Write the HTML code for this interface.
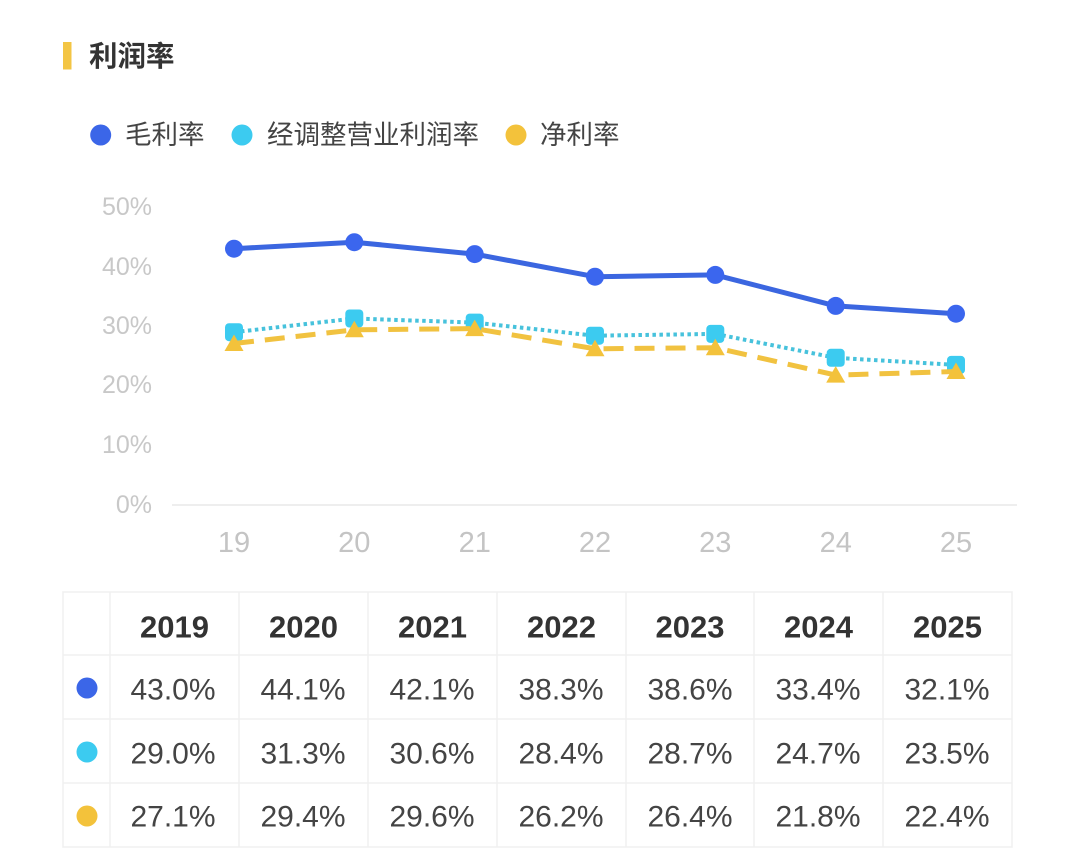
<!DOCTYPE html>
<html>
<head>
<meta charset="utf-8">
<style>
html,body{margin:0;padding:0;background:#fff;}
svg{display:block;}
text{font-family:"Liberation Sans","Noto Sans CJK SC",sans-serif;}
</style>
</head>
<body>
<svg width="1080" height="868" viewBox="0 0 1080 868" xmlns="http://www.w3.org/2000/svg">
<rect width="1080" height="868" fill="#fff"/>
<!-- title -->
<rect x="63" y="42" width="8.5" height="27.5" fill="#f3c544"/>
<text x="89" y="57" font-size="28.5" font-weight="bold" fill="#333" dominant-baseline="central">利润率</text>
<!-- legend -->
<circle cx="100.7" cy="135" r="10.5" fill="#3b66e8"/>
<text x="125" y="135" font-size="26.5" fill="#444" dominant-baseline="central">毛利率</text>
<circle cx="242" cy="135" r="10.5" fill="#3ccbf0"/>
<text x="267" y="135" font-size="26.5" fill="#444" dominant-baseline="central">经调整营业利润率</text>
<circle cx="516" cy="135" r="10.5" fill="#f3c23b"/>
<text x="540" y="135" font-size="26.5" fill="#444" dominant-baseline="central">净利率</text>
<!-- y axis labels -->
<g font-size="25" fill="#c8c8c8" text-anchor="end" dominant-baseline="central">
<text x="152" y="207">50%</text>
<text x="152" y="267">40%</text>
<text x="152" y="326">30%</text>
<text x="152" y="385">20%</text>
<text x="152" y="445">10%</text>
<text x="152" y="505">0%</text>
</g>
<line x1="172" y1="505" x2="1017" y2="505" stroke="#eeeeee" stroke-width="2"/>
<!-- x labels -->
<g font-size="29" fill="#c4c4c4" text-anchor="middle" dominant-baseline="central">
<text x="234" y="543">19</text>
<text x="354.3" y="543">20</text>
<text x="474.7" y="543">21</text>
<text x="595" y="543">22</text>
<text x="715.3" y="543">23</text>
<text x="835.7" y="543">24</text>
<text x="956" y="543">25</text>
</g>
<!-- blue series -->
<polyline fill="none" stroke="#3b66e0" stroke-width="5" stroke-linejoin="round" points="234,248.7 354.3,242.2 474.7,254.1 595,276.7 715.3,274.9 835.7,305.9 956,313.7"/>
<g fill="#3b66ee">
<circle cx="234" cy="248.7" r="9"/>
<circle cx="354.3" cy="242.2" r="9"/>
<circle cx="474.7" cy="254.1" r="9"/>
<circle cx="595" cy="276.7" r="9"/>
<circle cx="715.3" cy="274.9" r="9"/>
<circle cx="835.7" cy="305.9" r="9"/>
<circle cx="956" cy="313.7" r="9"/>
</g>
<!-- cyan series -->
<polyline fill="none" stroke="#47c2dc" stroke-width="4" stroke-dasharray="3.5 3.5" points="234,332.2 354.3,318.5 474.7,322.6 595,335.7 715.3,333.9 835.7,357.8 956,364.9"/>
<g fill="#3ccbf0">
<rect x="225" y="323.2" width="18" height="18" rx="4"/>
<rect x="345.3" y="309.5" width="18" height="18" rx="4"/>
<rect x="465.7" y="313.6" width="18" height="18" rx="4"/>
<rect x="586" y="326.7" width="18" height="18" rx="4"/>
<rect x="706.3" y="324.9" width="18" height="18" rx="4"/>
<rect x="826.7" y="348.8" width="18" height="18" rx="4"/>
<rect x="947" y="355.9" width="18" height="18" rx="4"/>
</g>
<!-- yellow series -->
<polyline fill="none" stroke="#f1c240" stroke-width="5" stroke-dasharray="20 11" points="234,343.5 354.3,329.8 474.7,328.6 595,348.8 715.3,347.7 835.7,375.1 956,371.5"/>
<g fill="#f3c23b">
<polygon points="234,334.5 243.5,351 224.5,351"/>
<polygon points="354.3,320.8 363.8,337.3 344.8,337.3"/>
<polygon points="474.7,319.6 484.2,336.1 465.2,336.1"/>
<polygon points="595,339.8 604.5,356.3 585.5,356.3"/>
<polygon points="715.3,338.7 724.8,355.2 705.8,355.2"/>
<polygon points="835.7,366.1 845.2,382.6 826.2,382.6"/>
<polygon points="956,362.5 965.5,379 946.5,379"/>
</g>
<!-- table -->
<g stroke="#f0f0f0" stroke-width="1.5" fill="none">
<rect x="63" y="592" width="949" height="255"/>
<line x1="63" y1="655" x2="1012" y2="655"/>
<line x1="63" y1="719" x2="1012" y2="719"/>
<line x1="63" y1="783" x2="1012" y2="783"/>
<line x1="110" y1="592" x2="110" y2="847"/>
<line x1="239" y1="592" x2="239" y2="847"/>
<line x1="368" y1="592" x2="368" y2="847"/>
<line x1="497" y1="592" x2="497" y2="847"/>
<line x1="626" y1="592" x2="626" y2="847"/>
<line x1="754" y1="592" x2="754" y2="847"/>
<line x1="883" y1="592" x2="883" y2="847"/>
</g>
<g font-size="31" font-weight="bold" fill="#333" text-anchor="middle" dominant-baseline="central">
<text x="174.5" y="627">2019</text>
<text x="303.5" y="627">2020</text>
<text x="432.5" y="627">2021</text>
<text x="561.5" y="627">2022</text>
<text x="690" y="627">2023</text>
<text x="818.5" y="627">2024</text>
<text x="947.5" y="627">2025</text>
</g>
<circle cx="87" cy="688" r="10.5" fill="#3b66e8"/>
<circle cx="87" cy="752" r="10.5" fill="#3ccbf0"/>
<circle cx="87" cy="816" r="10.5" fill="#f3c23b"/>
<g font-size="30" fill="#444" text-anchor="middle" dominant-baseline="central">
<text x="173" y="690">43.0%</text>
<text x="303" y="690">44.1%</text>
<text x="432" y="690">42.1%</text>
<text x="561" y="690">38.3%</text>
<text x="690" y="690">38.6%</text>
<text x="818" y="690">33.4%</text>
<text x="947" y="690">32.1%</text>
<text x="173" y="754">29.0%</text>
<text x="303" y="754">31.3%</text>
<text x="432" y="754">30.6%</text>
<text x="561" y="754">28.4%</text>
<text x="690" y="754">28.7%</text>
<text x="818" y="754">24.7%</text>
<text x="947" y="754">23.5%</text>
<text x="173" y="817">27.1%</text>
<text x="303" y="817">29.4%</text>
<text x="432" y="817">29.6%</text>
<text x="561" y="817">26.2%</text>
<text x="690" y="817">26.4%</text>
<text x="818" y="817">21.8%</text>
<text x="947" y="817">22.4%</text>
</g>
</svg>
</body>
</html>
